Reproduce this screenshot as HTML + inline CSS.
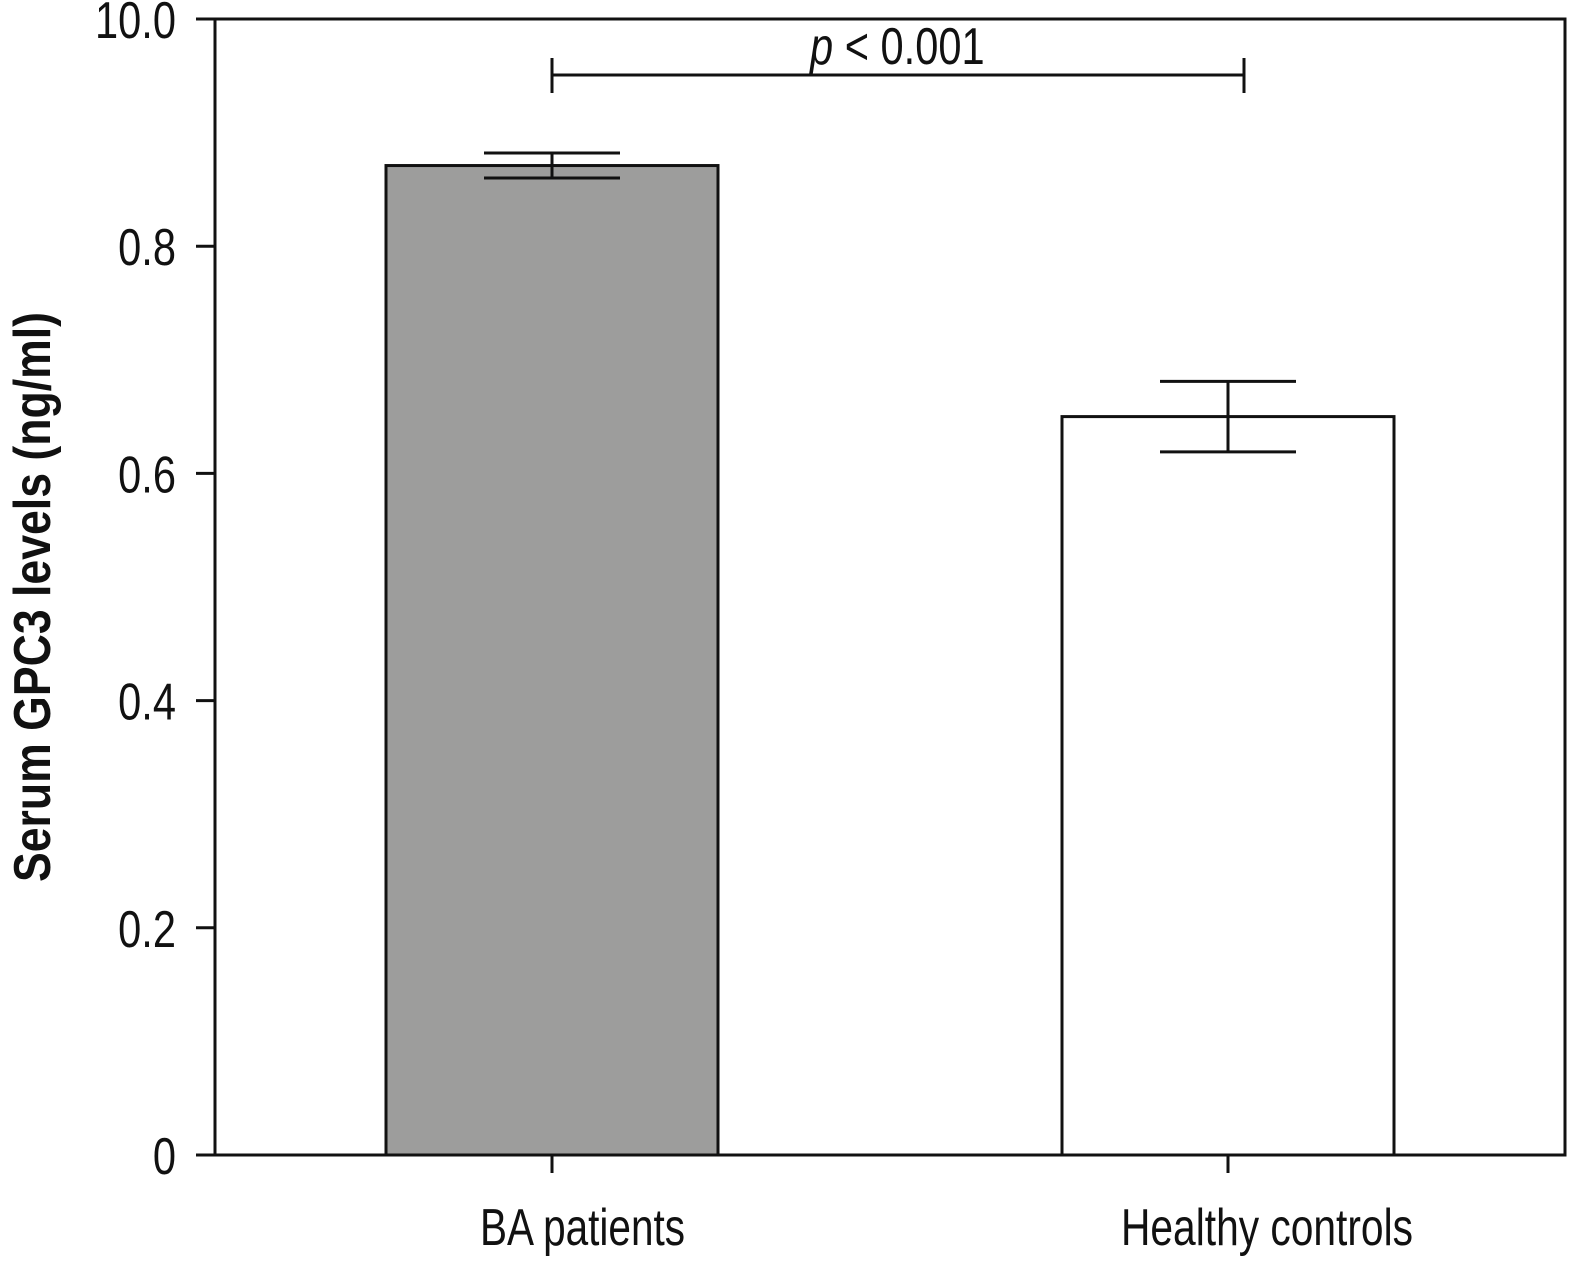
<!DOCTYPE html>
<html><head><meta charset="utf-8"><style>
html,body{margin:0;padding:0;background:#fff;}
svg{display:block;}
text{font-family:"Liberation Sans Narrow","Liberation Sans",sans-serif;fill:#111;}
</style></head><body>
<svg id="chart" width="1575" height="1264" viewBox="0 0 1575 1264"></svg>
<script>
const categories = ["BA patients", "Healthy controls"];
const values = [0.871, 0.650];
const errLow = [0.860, 0.619];
const errHigh = [0.882, 0.681];
const fills = ["#9d9d9c", "#ffffff"];
const yTicks = [0, 0.2, 0.4, 0.6, 0.8, 1.0];
const yTickLabels = ["0", "0.2", "0.4", "0.6", "0.8", "10.0"];
const pLabel = "< 0.001";

const NS = "http://www.w3.org/2000/svg";
const svg = document.getElementById("chart");
const L = 215, R = 1565, T = 19, B = 1155;
const y = v => B - v / 1.0 * (B - T);
const centers = [552, 1228];
const x = i => centers[i];
const barW = 332;
function el(tag, attrs, parent) {
  const e = document.createElementNS(NS, tag);
  for (const k in attrs) e.setAttribute(k, attrs[k]);
  (parent || svg).appendChild(e);
  return e;
}
values.forEach((v, i) => {
  const r = el("rect", {x: x(i) - barW/2, y: y(v), width: barW, height: B - y(v), fill: fills[i], stroke: "#111", "stroke-width": 3});
  
  
  const g = el("g", {stroke: "#111", "stroke-width": 3});
  
  
  el("line", {x1: x(i), x2: x(i), y1: y(errLow[i]), y2: y(errHigh[i])}, g);
  el("line", {x1: x(i) - 68, x2: x(i) + 68, y1: y(errLow[i]), y2: y(errLow[i])}, g);
  el("line", {x1: x(i) - 68, x2: x(i) + 68, y1: y(errHigh[i]), y2: y(errHigh[i])}, g);
});
const fr = el("rect", {x: L, y: T, width: R - L, height: B - T, fill: "none", stroke: "#111", "stroke-width": 3});


yTicks.forEach((t, i) => {
  const ln = el("line", {x1: 196, x2: L, y1: y(t), y2: y(t), stroke: "#111", "stroke-width": 3});
  
  
  const tx = el("text", {x: 0, y: 0, "text-anchor": "end", "font-size": 52, transform: "translate(176," + (y(t) + 19) + ") scale(0.8,1)"});
  tx.textContent = yTickLabels[i];
  
  
});
const labelX = [480, 1121];
const labelW = [205, 292];
categories.forEach((c, i) => {
  const ln = el("line", {x1: x(i), x2: x(i), y1: B, y2: B + 18, stroke: "#111", "stroke-width": 3});
  
  
  const tx = el("text", {x: labelX[i], y: 1245, "font-size": 52, textLength: labelW[i], lengthAdjust: "spacingAndGlyphs"});
  tx.textContent = c;
  
  
});
const sg = el("g", {stroke: "#111", "stroke-width": 3});


el("line", {x1: 552, x2: 1244, y1: 75, y2: 75}, sg);
el("line", {x1: 552, x2: 552, y1: 58, y2: 93}, sg);
el("line", {x1: 1244, x2: 1244, y1: 58, y2: 93}, sg);
const pt = el("text", {x: 0, y: 0, "font-size": 52, transform: "translate(810,64) scale(0.8,1)"});


const pi = el("tspan", {"font-style": "italic"}, pt); pi.textContent = "p";
const pr = el("tspan", {}, pt); pr.textContent = " " + pLabel;
const yt = el("text", {x: 0, y: 0, "text-anchor": "middle", "font-size": 52, "font-weight": "bold", textLength: 570, lengthAdjust: "spacingAndGlyphs", transform: "translate(50,597) rotate(-90)"});
yt.textContent = "Serum GPC3 levels (ng/ml)";


</script>
</body></html>
